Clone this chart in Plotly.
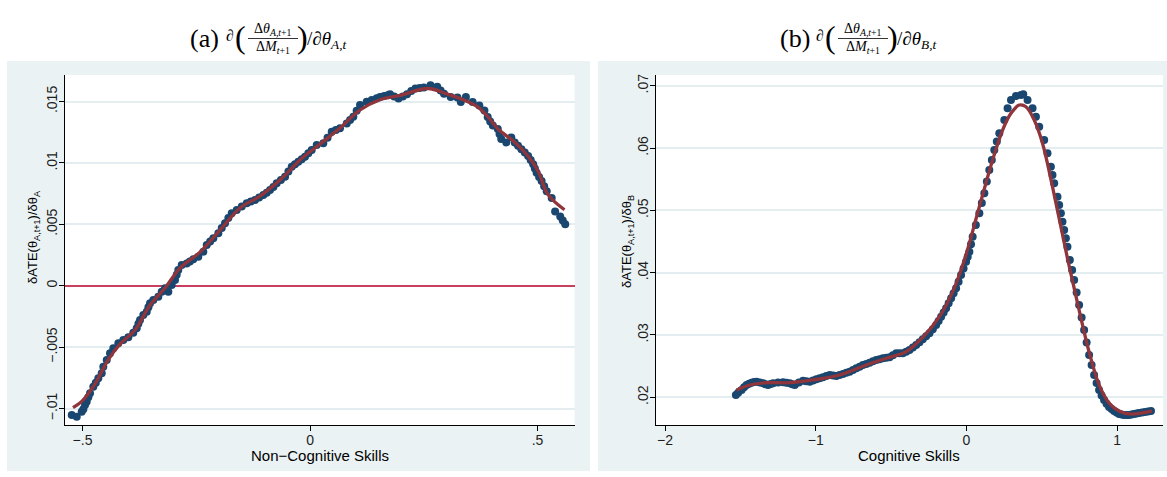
import plotly.graph_objects as go
from plotly.subplots import make_subplots

W, H = 1167, 477

# ---------------- Panel (a): Non-Cognitive Skills ----------------
a_x = [-0.5237, -0.5127, -0.5018, -0.4982, -0.4945, -0.4908, -0.4872, -0.4835, -0.4763, -0.4708,
       -0.4653, -0.4578, -0.4543, -0.4468, -0.4396, -0.4323, -0.4213, -0.4103, -0.3993, -0.3884,
       -0.3809, -0.3772, -0.3736, -0.3664, -0.3589, -0.3552, -0.3516, -0.3444, -0.3334, -0.3259,
       -0.3187, -0.3114, -0.3040, -0.2967, -0.2930, -0.2895, -0.2820, -0.2710, -0.2640, -0.2565,
       -0.2455, -0.2345, -0.2270, -0.2195, -0.2125, -0.2015, -0.1940, -0.1868, -0.1795, -0.1721,
       -0.1611, -0.1500, -0.1391, -0.1300, -0.1209, -0.1118, -0.1026, -0.0952, -0.0879, -0.0805,
       -0.0732, -0.0640, -0.0549, -0.0475, -0.0402, -0.0330, -0.0257, -0.0183, -0.0110, -0.0037,
       0.0037, 0.0147, 0.0292, 0.0385, 0.0477, 0.0568, 0.0659, 0.0807, 0.0880, 0.0952,
       0.1025, 0.1099, 0.1246, 0.1356, 0.1466, 0.1538, 0.1630, 0.1721, 0.1758, 0.1850,
       0.1945, 0.2040, 0.2132, 0.2225, 0.2316, 0.2410, 0.2501, 0.2648, 0.2796, 0.2870,
       0.2945, 0.3092, 0.3240, 0.3314, 0.3426, 0.3574, 0.3721, 0.3833, 0.3905, 0.3960,
       0.4018, 0.4127, 0.4165, 0.4202, 0.4314, 0.4424, 0.4499, 0.4572, 0.4646, 0.4720,
       0.4793, 0.4850, 0.4905, 0.4942, 0.4980, 0.5035, 0.5090, 0.5146, 0.5202, 0.5312,
       0.5387, 0.5499, 0.5555, 0.5609]
a_y = [-0.01053, -0.01067, -0.01026, -0.01006, -0.00972, -0.00945, -0.00908, -0.00876, -0.00822, -0.00790,
       -0.00754, -0.00713, -0.00660, -0.00605, -0.00550, -0.00510, -0.00469, -0.00442, -0.00420, -0.00383,
       -0.00347, -0.00310, -0.00279, -0.00239, -0.00212, -0.00175, -0.00143, -0.00116, -0.00090, -0.00049,
       -0.00021, -0.00049, 0.00006, 0.00046, 0.00090, 0.00128, 0.00169, 0.00182, 0.00198, 0.00215,
       0.00236, 0.00277, 0.00331, 0.00360, 0.00386, 0.00427, 0.00470, 0.00508, 0.00552, 0.00590,
       0.00616, 0.00645, 0.00671, 0.00685, 0.00698, 0.00718, 0.00739, 0.00758, 0.00779, 0.00804,
       0.00834, 0.00860, 0.00888, 0.00930, 0.00969, 0.00990, 0.01010, 0.01030, 0.01050, 0.01078,
       0.01105, 0.01146, 0.01160, 0.01205, 0.01254, 0.01268, 0.01282, 0.01322, 0.01350, 0.01376,
       0.01425, 0.01471, 0.01498, 0.01512, 0.01526, 0.01537, 0.01546, 0.01553, 0.01559, 0.01540,
       0.01524, 0.01540, 0.01559, 0.01585, 0.01606, 0.01610, 0.01614, 0.01633, 0.01620, 0.01590,
       0.01564, 0.01537, 0.01532, 0.01496, 0.01537, 0.01496, 0.01468, 0.01427, 0.01373, 0.01338,
       0.01304, 0.01277, 0.01236, 0.01195, 0.01167, 0.01208, 0.01167, 0.01140, 0.01112, 0.01085,
       0.01057, 0.01023, 0.00989, 0.00955, 0.00920, 0.00886, 0.00852, 0.00811, 0.00770, 0.00715,
       0.00605, 0.00563, 0.00532, 0.00501]

a_fit_x = [-0.5209, -0.4989, -0.4725, -0.4440, -0.4176, -0.3846, -0.3516, -0.3187, -0.2857, -0.2418,
           -0.1978, -0.1538, -0.1099, -0.0659, -0.0220, 0.0220, 0.0659, 0.1099, 0.1538, 0.1978,
           0.2593, 0.3011, 0.3385, 0.3692, 0.3912, 0.4132, 0.4505, 0.4791, 0.5011, 0.5231, 0.5593]
a_fit_y = [-0.00993, -0.00931, -0.00800, -0.00605, -0.00475, -0.00361, -0.00157, -0.00019, 0.00144, 0.00274,
           0.00453, 0.00633, 0.00730, 0.00861, 0.01024, 0.01154, 0.01284, 0.01431, 0.01515, 0.01550,
           0.01606, 0.01561, 0.01512, 0.01455, 0.01374, 0.01276, 0.01167, 0.01056, 0.00934, 0.00742, 0.00619]

a_xticks = [-0.5, 0, 0.5]
a_xticklabels = ["\u2212.5", "0", ".5"]
a_yticks = [-0.01, -0.005, 0, 0.005, 0.01, 0.015]
a_yticklabels = ["\u2212.01", "\u2212.005", "0", ".005", ".01", ".015"]

# ---------------- Panel (b): Cognitive Skills ----------------
b_x = [-1.5298, -1.5146, -1.4921, -1.4755, -1.4589, -1.4424, -1.4258, -1.4093, -1.3927, -1.3709,
       -1.3490, -1.3325, -1.3159, -1.2994, -1.2828, -1.2497, -1.2166, -1.1944, -1.1722, -1.1557,
       -1.1391, -1.1116, -1.0841, -1.0619, -1.0397, -1.0176, -0.9954, -0.9736, -0.9517, -0.9295,
       -0.9073, -0.8851, -0.8629, -0.8411, -0.8192, -0.7970, -0.7748, -0.7527, -0.7305, -0.7087,
       -0.6868, -0.6646, -0.6424, -0.6202, -0.5980, -0.5762, -0.5543, -0.5321, -0.5099, -0.4878,
       -0.4656, -0.4438, -0.4219, -0.3997, -0.3775, -0.3553, -0.3331, -0.3113, -0.2894, -0.2672,
       -0.2450, -0.2228, -0.2007, -0.1841, -0.1675, -0.1510, -0.1344, -0.1178, -0.1013, -0.0848,
       -0.0682, -0.0517, -0.0351, -0.0186, -0.0020, 0.0090, 0.0199, 0.0308, 0.0417, 0.0629,
       0.0861, 0.1026, 0.1192, 0.1358, 0.1523, 0.1689, 0.1854, 0.2020, 0.2185, 0.2517,
       0.2735, 0.2960, 0.3291, 0.3623, 0.3775, 0.4060, 0.4391, 0.4616, 0.4834, 0.5166,
       0.5384, 0.5609, 0.5715, 0.5828, 0.6046, 0.6159, 0.6272, 0.6377, 0.6490, 0.6603,
       0.6709, 0.6868, 0.7020, 0.7152, 0.7318, 0.7483, 0.7649, 0.7815, 0.7980, 0.8146,
       0.8311, 0.8477, 0.8642, 0.8808, 0.8974, 0.9139, 0.9305, 0.9470, 0.9636, 0.9801,
       0.9967, 1.0132, 1.0298, 1.0464, 1.0630, 1.0795, 1.0961, 1.1126, 1.1292, 1.1457,
       1.1656, 1.1854, 1.2053, 1.2252]
b_y = [0.02037, 0.02074, 0.02117, 0.02160, 0.02197, 0.02218, 0.02234, 0.02245, 0.02250, 0.02238,
       0.02225, 0.02208, 0.02197, 0.02212, 0.02225, 0.02236, 0.02241, 0.02232, 0.02225, 0.02210,
       0.02197, 0.02236, 0.02266, 0.02256, 0.02250, 0.02270, 0.02289, 0.02305, 0.02321, 0.02340,
       0.02358, 0.02349, 0.02342, 0.02358, 0.02374, 0.02392, 0.02411, 0.02438, 0.02465, 0.02492,
       0.02518, 0.02536, 0.02555, 0.02577, 0.02599, 0.02612, 0.02626, 0.02634, 0.02642, 0.02675,
       0.02706, 0.02706, 0.02706, 0.02730, 0.02759, 0.02797, 0.02839, 0.02884, 0.02931, 0.02978,
       0.03027, 0.03092, 0.03160, 0.03226, 0.03294, 0.03360, 0.03428, 0.03508, 0.03589, 0.03668,
       0.03749, 0.03855, 0.03963, 0.04068, 0.04176, 0.04256, 0.04337, 0.04458, 0.04578, 0.04766,
       0.04953, 0.05118, 0.05274, 0.05464, 0.05648, 0.05809, 0.05969, 0.06106, 0.06237, 0.06451,
       0.06638, 0.06772, 0.06836, 0.06852, 0.06863, 0.06772, 0.06638, 0.06504, 0.06343, 0.06130,
       0.05916, 0.05701, 0.05568, 0.05435, 0.05220, 0.05087, 0.04953, 0.04818, 0.04685, 0.04552,
       0.04417, 0.04204, 0.04043, 0.03883, 0.03682, 0.03481, 0.03281, 0.03080, 0.02880, 0.02679,
       0.02518, 0.02358, 0.02230, 0.02117, 0.02030, 0.01957, 0.01898, 0.01845, 0.01810, 0.01781,
       0.01755, 0.01732, 0.01722, 0.01716, 0.01714, 0.01716, 0.01722, 0.01732, 0.01740, 0.01748,
       0.01756, 0.01764, 0.01772, 0.01780]

b_fit_x = [-1.5252, -1.4371, -1.3265, -1.1722, -1.0179, -0.8411, -0.6642, -0.5318, -0.3993, -0.2894,
           -0.1788, -0.0907, -0.0132, 0.0861, 0.1742, 0.2404, 0.2960, 0.3510, 0.3954, 0.4503,
           0.5053, 0.5715, 0.6709, 0.7483, 0.8146, 0.8808, 0.9470, 1.0132, 1.0795, 1.1457, 1.2318]
b_fit_y = [0.02117, 0.02197, 0.02234, 0.02234, 0.02278, 0.02358, 0.02518, 0.02626, 0.02732, 0.02963,
           0.03294, 0.03695, 0.04204, 0.05059, 0.05809, 0.06290, 0.06558, 0.06691, 0.06664, 0.06451,
           0.06077, 0.05380, 0.04231, 0.03400, 0.02727, 0.02199, 0.01909, 0.01780, 0.01732, 0.01740, 0.01780]

b_xticks = [-2, -1, 0, 1]
b_xticklabels = ["\u22122", "\u22121", "0", "1"]
b_yticks = [0.02, 0.03, 0.04, 0.05, 0.06, 0.07]
b_yticklabels = [".02", ".03", ".04", ".05", ".06", ".07"]

# ---------------- styling ----------------
NAVY = "#1a476f"
FIT = "#90353b"
ZERO = "#c8405e"
BG = "#eaf2f3"
GRID = "#e4eef0"
SANS = "Liberation Sans, Arial, sans-serif"
SERIF = "Liberation Serif, Times New Roman, serif"
MS = 8

fig = make_subplots(rows=1, cols=2)

fig.add_trace(go.Scatter(x=a_x, y=a_y, mode="markers",
                         marker=dict(color=NAVY, size=MS, line=dict(width=0)),
                         showlegend=False), row=1, col=1)
fig.add_trace(go.Scatter(x=a_fit_x, y=a_fit_y, mode="lines", line_shape="spline",
                         line=dict(color=FIT, width=3.3), showlegend=False), row=1, col=1)
fig.add_trace(go.Scatter(x=b_x, y=b_y, mode="markers",
                         marker=dict(color=NAVY, size=MS, line=dict(width=0)),
                         showlegend=False), row=1, col=2)
fig.add_trace(go.Scatter(x=b_fit_x, y=b_fit_y, mode="lines", line_shape="spline",
                         line=dict(color=FIT, width=3.3), showlegend=False), row=1, col=2)

ydom = [1 - 425 / H, 1 - 75 / H]
axis_common = dict(showline=True, linecolor="black", linewidth=1, mirror=False,
                   ticks="outside", ticklen=5, tickcolor="black", tickwidth=1,
                   tickfont=dict(family=SANS, size=14, color="#1e1e1e"))

fig.update_xaxes(domain=[65 / W, 574.6 / W], range=[-0.5385, 0.5815],
                 tickvals=a_xticks, ticktext=a_xticklabels, showgrid=False, zeroline=False,
                 ticklabelstandoff=-3, **axis_common, row=1, col=1)
fig.update_yaxes(domain=ydom, range=[-0.01134, 0.01716],
                 tickvals=a_yticks, ticktext=a_yticklabels, tickangle=-90,
                 showgrid=True, gridcolor=GRID, gridwidth=1.5,
                 zeroline=True, zerolinecolor=ZERO, zerolinewidth=1.6,
                 ticklabelstandoff=-4, **axis_common, row=1, col=1)
fig.update_xaxes(domain=[655.7 / W, 1163 / W], range=[-2.062, 1.305],
                 tickvals=b_xticks, ticktext=b_xticklabels, showgrid=False, zeroline=False,
                 ticklabelstandoff=-3, **axis_common, row=1, col=2)
fig.update_yaxes(domain=ydom, range=[0.01555, 0.07173],
                 tickvals=b_yticks, ticktext=b_yticklabels, tickangle=-90,
                 showgrid=True, gridcolor=GRID, gridwidth=1.5, zeroline=False,
                 ticklabelstandoff=-4, **axis_common, row=1, col=2)

# white margins around the two light-blue graph regions
white = dict(type="rect", xref="paper", yref="paper", fillcolor="white",
             line=dict(width=0), layer="below")
shapes = [
    dict(white, x0=0, x1=1, y0=1 - 61 / H, y1=1),
    dict(white, x0=0, x1=7 / W, y0=0, y1=1),
    dict(white, x0=590 / W, x1=598 / W, y0=0, y1=1),
    dict(white, x0=0, x1=1, y0=0, y1=1 - 471 / H),
]

ann = []


def txt(t, x, y, size, family=SANS, xanchor="center", angle=0):
    ann.append(dict(text=t, x=x / W, y=1 - y / H, xref="paper", yref="paper",
                    showarrow=False, xanchor=xanchor, yanchor="middle", textangle=angle,
                    font=dict(family=family, size=size, color="black")))


def title(letter, sub, dx):
    txt("(" + letter + ")", 204.5 + dx, 39, 26, SERIF)
    txt("\u2202", 230 + dx, 35, 16, SERIF)
    txt("(", 240 + dx, 37, 32, SERIF)
    txt("\u0394<i>\u03b8</i><sub><i>A,t</i>+1</sub>", 273 + dx, 30, 14, SERIF)
    txt("\u0394<i>M</i><sub><i>t</i>+1</sub>", 273 + dx, 47, 14, SERIF)
    txt(")", 302 + dx, 37, 32, SERIF)
    txt("/\u2202<i>\u03b8</i><sub><i>" + sub + ",t</i></sub>", 305 + dx, 40, 19, SERIF,
        xanchor="left")
    shapes.append(dict(type="line", xref="paper", yref="paper",
                       x0=(248 + dx) / W, x1=(298 + dx) / W,
                       y0=1 - 38.5 / H, y1=1 - 38.5 / H,
                       line=dict(color="black", width=0.8)))


title("a", "A", 0)
title("b", "B", 590)

txt("Non\u2212Cognitive Skills", 320, 455, 15)
txt("Cognitive Skills", 909, 455, 15)
txt("\u03b4ATE(\u03b8<sub>A,t+1</sub>)/\u03b4\u03b8<sub>A</sub>", 33, 237, 13, angle=-90)
txt("\u03b4ATE(\u03b8<sub>A,t+1</sub>)/\u03b4\u03b8<sub>B</sub>", 628, 242, 13, angle=-90)

fig.update_layout(width=W, height=H, margin=dict(l=0, r=0, t=0, b=0),
                  paper_bgcolor=BG, plot_bgcolor="white",
                  shapes=shapes, annotations=ann, showlegend=False)

fig.write_html("out.html")
